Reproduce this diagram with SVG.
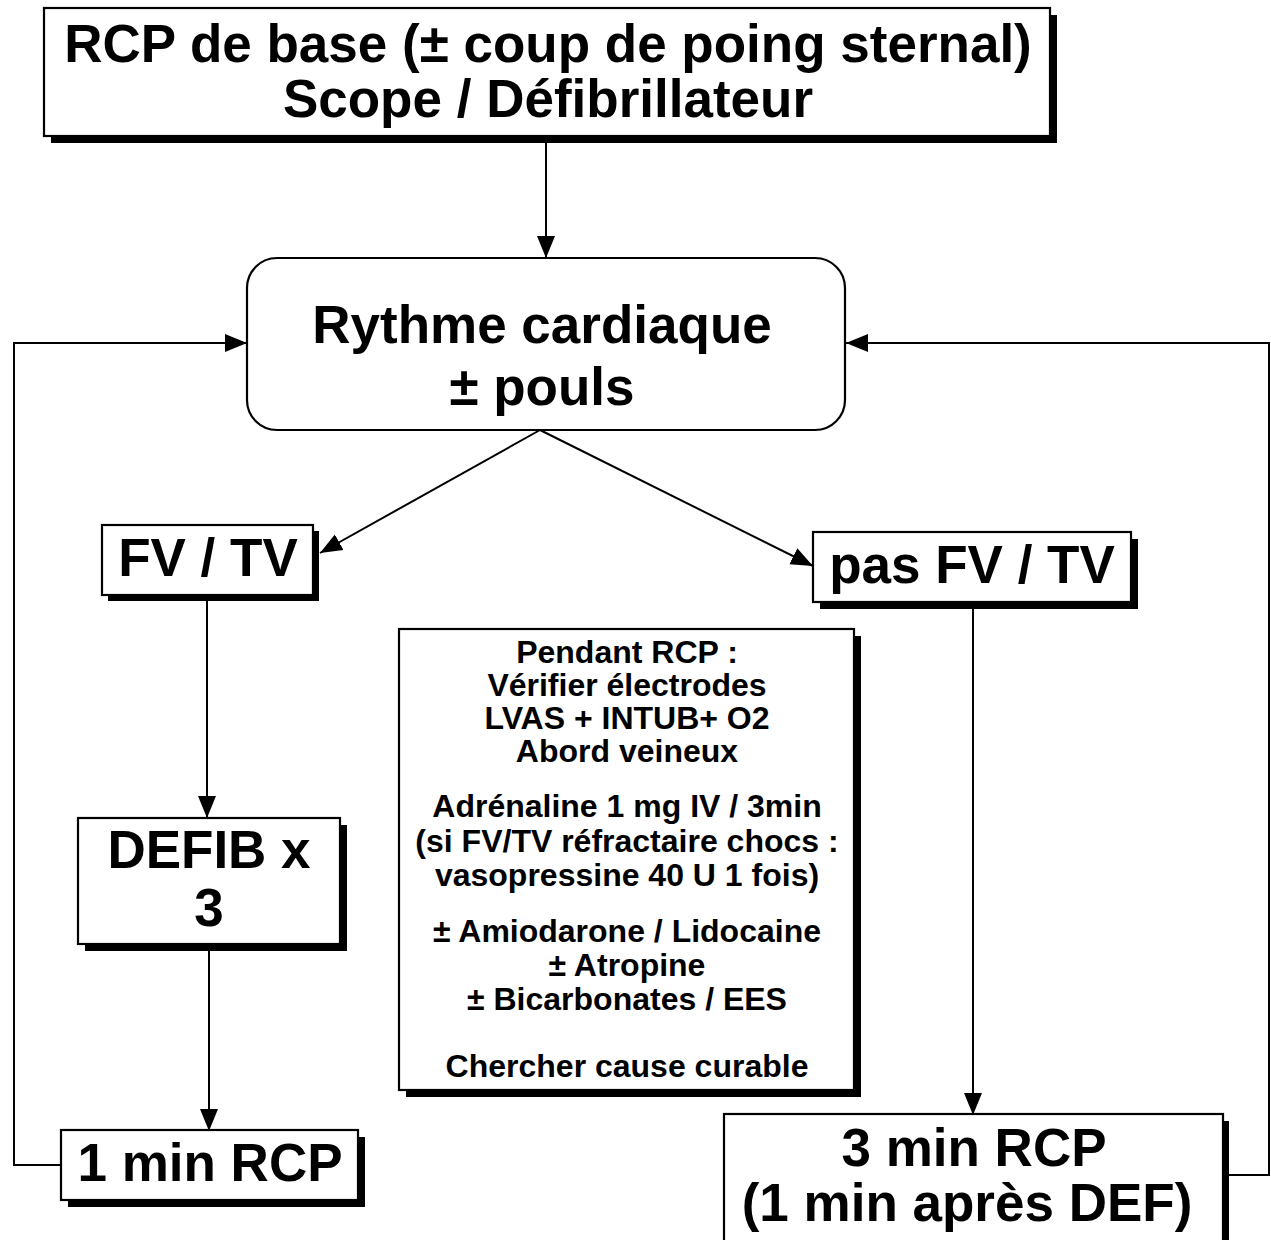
<svg xmlns="http://www.w3.org/2000/svg" width="1271" height="1240" viewBox="0 0 1271 1240">
<style>
text{font-family:"Liberation Sans",Arial,sans-serif;font-weight:bold;fill:#000;text-anchor:middle}
.big{font-size:53px}
.small{font-size:32px}
.box{fill:#fff;stroke:#000;stroke-width:2.2}
.sh{fill:#000}
.ln{fill:none;stroke:#000;stroke-width:2}
</style>
<defs>
<marker id="ah" markerUnits="userSpaceOnUse" markerWidth="23" markerHeight="20" refX="22" refY="10" orient="auto">
<path d="M0,1 L22,10 L0,19 Z" fill="#000"/>
</marker>
</defs>
<rect width="1271" height="1240" fill="#fff"/>
<g id="connectors">
<line class="ln" x1="546" y1="143" x2="546" y2="258" marker-end="url(#ah)"/>
<polyline class="ln" points="62,1165 14,1165 14,343 247,343" marker-end="url(#ah)"/>
<polyline class="ln" points="1228,1175 1269,1175 1269,343 846,343" marker-end="url(#ah)"/>
<line class="ln" x1="540" y1="430" x2="320" y2="553" marker-end="url(#ah)"/>
<line class="ln" x1="540" y1="430" x2="813" y2="566" marker-end="url(#ah)"/>
<line class="ln" x1="207" y1="601" x2="207" y2="818" marker-end="url(#ah)"/>
<line class="ln" x1="209" y1="950" x2="209" y2="1131" marker-end="url(#ah)"/>
<line class="ln" x1="973" y1="608" x2="973" y2="1115" marker-end="url(#ah)"/>
</g>
<g id="n-rcp-base">
<rect class="sh" x="51" y="15" width="1006" height="128"/>
<rect class="box" x="44" y="8" width="1006" height="128"/>
<text class="big" x="548" y="62">RCP de base (± coup de poing sternal)</text>
<text class="big" x="548" y="117">Scope / Défibrillateur</text>
</g>
<g id="n-rythme">
<rect class="box" x="247" y="258" width="598" height="172" rx="30" ry="30"/>
<text class="big" x="542" y="343">Rythme cardiaque</text>
<text class="big" x="542" y="405">± pouls</text>
</g>
<g id="n-fvtv">
<rect class="sh" x="108" y="531" width="211" height="70"/>
<rect class="box" x="102" y="525" width="211" height="70"/>
<text class="big" x="208" y="576">FV / TV</text>
</g>
<g id="n-pas-fvtv">
<rect class="sh" x="820" y="539" width="318" height="70"/>
<rect class="box" x="813" y="532" width="318" height="70"/>
<text class="big" x="972" y="583">pas FV / TV</text>
</g>
<g id="n-defib">
<rect class="sh" x="85" y="825" width="262" height="126"/>
<rect class="box" x="78" y="818" width="262" height="126"/>
<text class="big" x="209" y="868">DEFIB x</text>
<text class="big" x="209" y="926">3</text>
</g>
<g id="n-1min">
<rect class="sh" x="68" y="1137" width="297" height="70"/>
<rect class="box" x="61" y="1130" width="297" height="70"/>
<text class="big" x="210" y="1181">1 min RCP</text>
</g>
<g id="n-3min">
<rect class="sh" x="731" y="1121" width="498" height="130"/>
<rect class="box" x="724" y="1114" width="499" height="130"/>
<text class="big" x="974" y="1166">3 min RCP</text>
<text class="big" x="967" y="1221">(1 min après DEF)</text>
</g>
<g id="n-pendant">
<rect class="sh" x="406" y="636" width="455" height="461"/>
<rect class="box" x="399" y="629" width="455" height="461"/>
<text class="small" x="627" y="663">Pendant RCP :</text>
<text class="small" x="627" y="696">Vérifier électrodes</text>
<text class="small" x="627" y="729">LVAS + INTUB+ O2</text>
<text class="small" x="627" y="762">Abord veineux</text>
<text class="small" x="627" y="817">Adrénaline 1 mg IV / 3min</text>
<text class="small" x="627" y="852">(si FV/TV réfractaire chocs :</text>
<text class="small" x="627" y="886">vasopressine 40 U 1 fois)</text>
<text class="small" x="627" y="942">± Amiodarone / Lidocaine</text>
<text class="small" x="627" y="976">± Atropine</text>
<text class="small" x="627" y="1010">± Bicarbonates / EES</text>
<text class="small" x="627" y="1077">Chercher cause curable</text>
</g>
</svg>
